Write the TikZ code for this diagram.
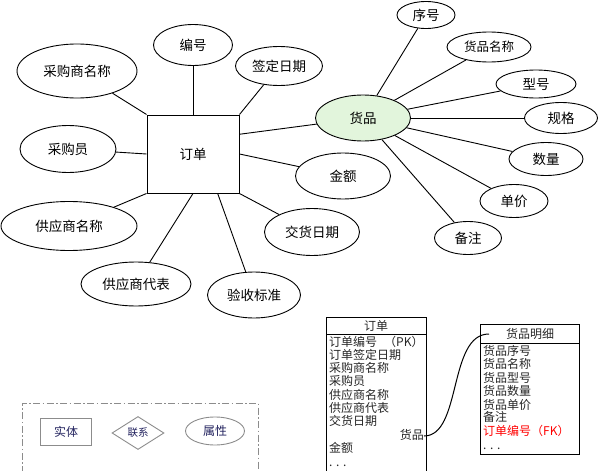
\documentclass[tikz,border=0pt]{standalone}
\usepackage{fontspec}
\setmainfont{Noto Sans CJK SC}
\usetikzlibrary{shapes.geometric}
\definecolor{hpfill}{HTML}{E2F5DC}
\definecolor{legtext}{HTML}{22225E}
\definecolor{leggray}{HTML}{8C8C8C}
\begin{document}
\begin{tikzpicture}[x=1pt,y=-1pt,
  attr/.style={ellipse,draw,line width=0.9pt,inner sep=0pt,font=\fontsize{13.5}{14}\selectfont},
  conn/.style={line width=0.9pt},
  row/.style={anchor=west,inner sep=0pt,text height=9pt,text depth=2pt,font=\fontsize{12}{12}\selectfont,text=black!85},
  tbox/.style={line width=1pt},
  legshape/.style={draw=leggray,line width=0.9pt,inner sep=0pt,text=legtext,font=\fontsize{11}{11}\selectfont}]
\useasboundingbox (0,0) rectangle (598,471);

% entity 订单
\node[draw,line width=1pt,minimum width=92pt,minimum height=78pt,inner sep=0pt,font=\fontsize{13.5}{14}\selectfont] (ord) at (193,154) {订单};

% attributes of 订单
\node[attr,minimum width=79pt,minimum height=41pt] (bh) at (193,45) {编号};
\node[attr,minimum width=120pt,minimum height=54pt] (cgsmc) at (77,71) {采购商名称};
\node[attr,minimum width=87pt,minimum height=39pt] (qdrq) at (279,66) {签定日期};
\node[attr,minimum width=96pt,minimum height=47pt] (cgy) at (68,149) {采购员};
\node[attr,minimum width=136pt,minimum height=49pt] (gysmc) at (69,226) {供应商名称};
\node[attr,minimum width=110pt,minimum height=44pt] (gysdb) at (136,284) {供应商代表};
\node[attr,minimum width=93pt,minimum height=46pt] (ysbz) at (254,295) {验收标准};
\node[attr,minimum width=95pt,minimum height=46pt] (je) at (343,176) {金额};
\node[attr,minimum width=95pt,minimum height=47pt] (jhrq) at (312,232) {交货日期};
\node[attr,fill=hpfill,minimum width=95pt,minimum height=46pt] (hp) at (363,118) {货品};

% attributes of 货品
\node[attr,minimum width=58pt,minimum height=27pt] (xh) at (426,15) {序号};
\node[attr,minimum width=84pt,minimum height=30pt,font=\fontsize{12.5}{13}\selectfont] (hpmc) at (489,47) {货品名称};
\node[attr,minimum width=80pt,minimum height=28pt] (xinghao) at (536,84) {型号};
\node[attr,minimum width=73pt,minimum height=31pt] (gg) at (561,118) {规格};
\node[attr,minimum width=74pt,minimum height=33pt] (sl) at (546,159) {数量};
\node[attr,minimum width=68pt,minimum height=33pt] (dj) at (514,201) {单价};
\node[attr,minimum width=67pt,minimum height=33pt] (bz) at (468,238) {备注};

% connectors
\draw[conn] (ord.north) -- (bh);
\draw[conn] (ord.north west) -- (cgsmc);
\draw[conn] (ord.north east) -- (qdrq);
\draw[conn] (ord.west) -- (cgy);
\draw[conn] (ord.south west) -- (gysmc);
\draw[conn] (ord.south) -- (gysdb);
\draw[conn] (ord.-58) -- (ysbz);
\draw[conn] (ord.south east) -- (jhrq);
\draw[conn] (ord.east) -- (je);
\draw[conn] (ord.23) -- (hp);
\foreach \t in {xh,hpmc,xinghao,gg,sl,dj,bz} \draw[conn] (hp) -- (\t);

% table 订单
\draw[tbox] (326,473) |- (426,317) -- (426,473);
\draw[line width=0.8pt] (326,334) -- (426,334);
\node[inner sep=0pt,font=\fontsize{12}{12}\selectfont,text=black!85] (t1h) at (376,326) {订单};
\node[row] (t1r1) at (329,343) {订单编号\hspace{7pt}（PK）};
\node[row] (t1r2) at (329,356) {订单签定日期};
\node[row] (t1r3) at (329,369) {采购商名称};
\node[row] (t1r4) at (329,382) {采购员};
\node[row] (t1r5) at (329,396) {供应商名称};
\node[row] (t1r6) at (329,409) {供应商代表};
\node[row] (t1r7) at (329,422) {交货日期};
\node[row,anchor=east] (t1r8) at (424,436) {货品};
\node[row] (t1r9) at (329,449) {金额};
\node[row] (t1r10) at (329,463) {. . .};

% table 货品明细
\draw[tbox] (480,324) rectangle (579,454);
\draw[line width=0.8pt] (480,343) -- (579,343);
\node[inner sep=0pt,font=\fontsize{12}{12}\selectfont,text=black!85] (t2h) at (530,334) {货品明细};
\node[row] (t2r1) at (483,352) {货品序号};
\node[row] (t2r2) at (483,365) {货品名称};
\node[row] (t2r3) at (483,379) {货品型号};
\node[row] (t2r4) at (483,392) {货品数量};
\node[row] (t2r5) at (483,406) {货品单价};
\node[row] (t2r6) at (483,418) {备注};
\node[row,text=red] (t2r7) at (483,432) {订单编号（FK）};
\node[row] (t2r8) at (483,446) {. . .};
\coordinate (cend) at (489,334);
\draw[line width=1pt] (t1r8.east) .. controls (462,436) and (448,334) .. (cend);

% legend
\draw[leggray,line width=0.8pt,dash pattern=on 7pt off 2.5pt on 1.5pt off 2.5pt] (22,473) |- (258,403) -- (258,473);
\node[legshape,minimum width=51pt,minimum height=27pt,font=\fontsize{12}{12}\selectfont] (lent) at (66,432) {实体};
\node[legshape,diamond,aspect=1.6,minimum width=52pt,minimum height=33pt,font=\fontsize{10.5}{11}\selectfont] (lrel) at (138,433) {联系};
\node[legshape,ellipse,minimum width=59pt,minimum height=28pt,font=\fontsize{12}{12}\selectfont] (latt) at (215,431) {属性};
\end{tikzpicture}
\end{document}
